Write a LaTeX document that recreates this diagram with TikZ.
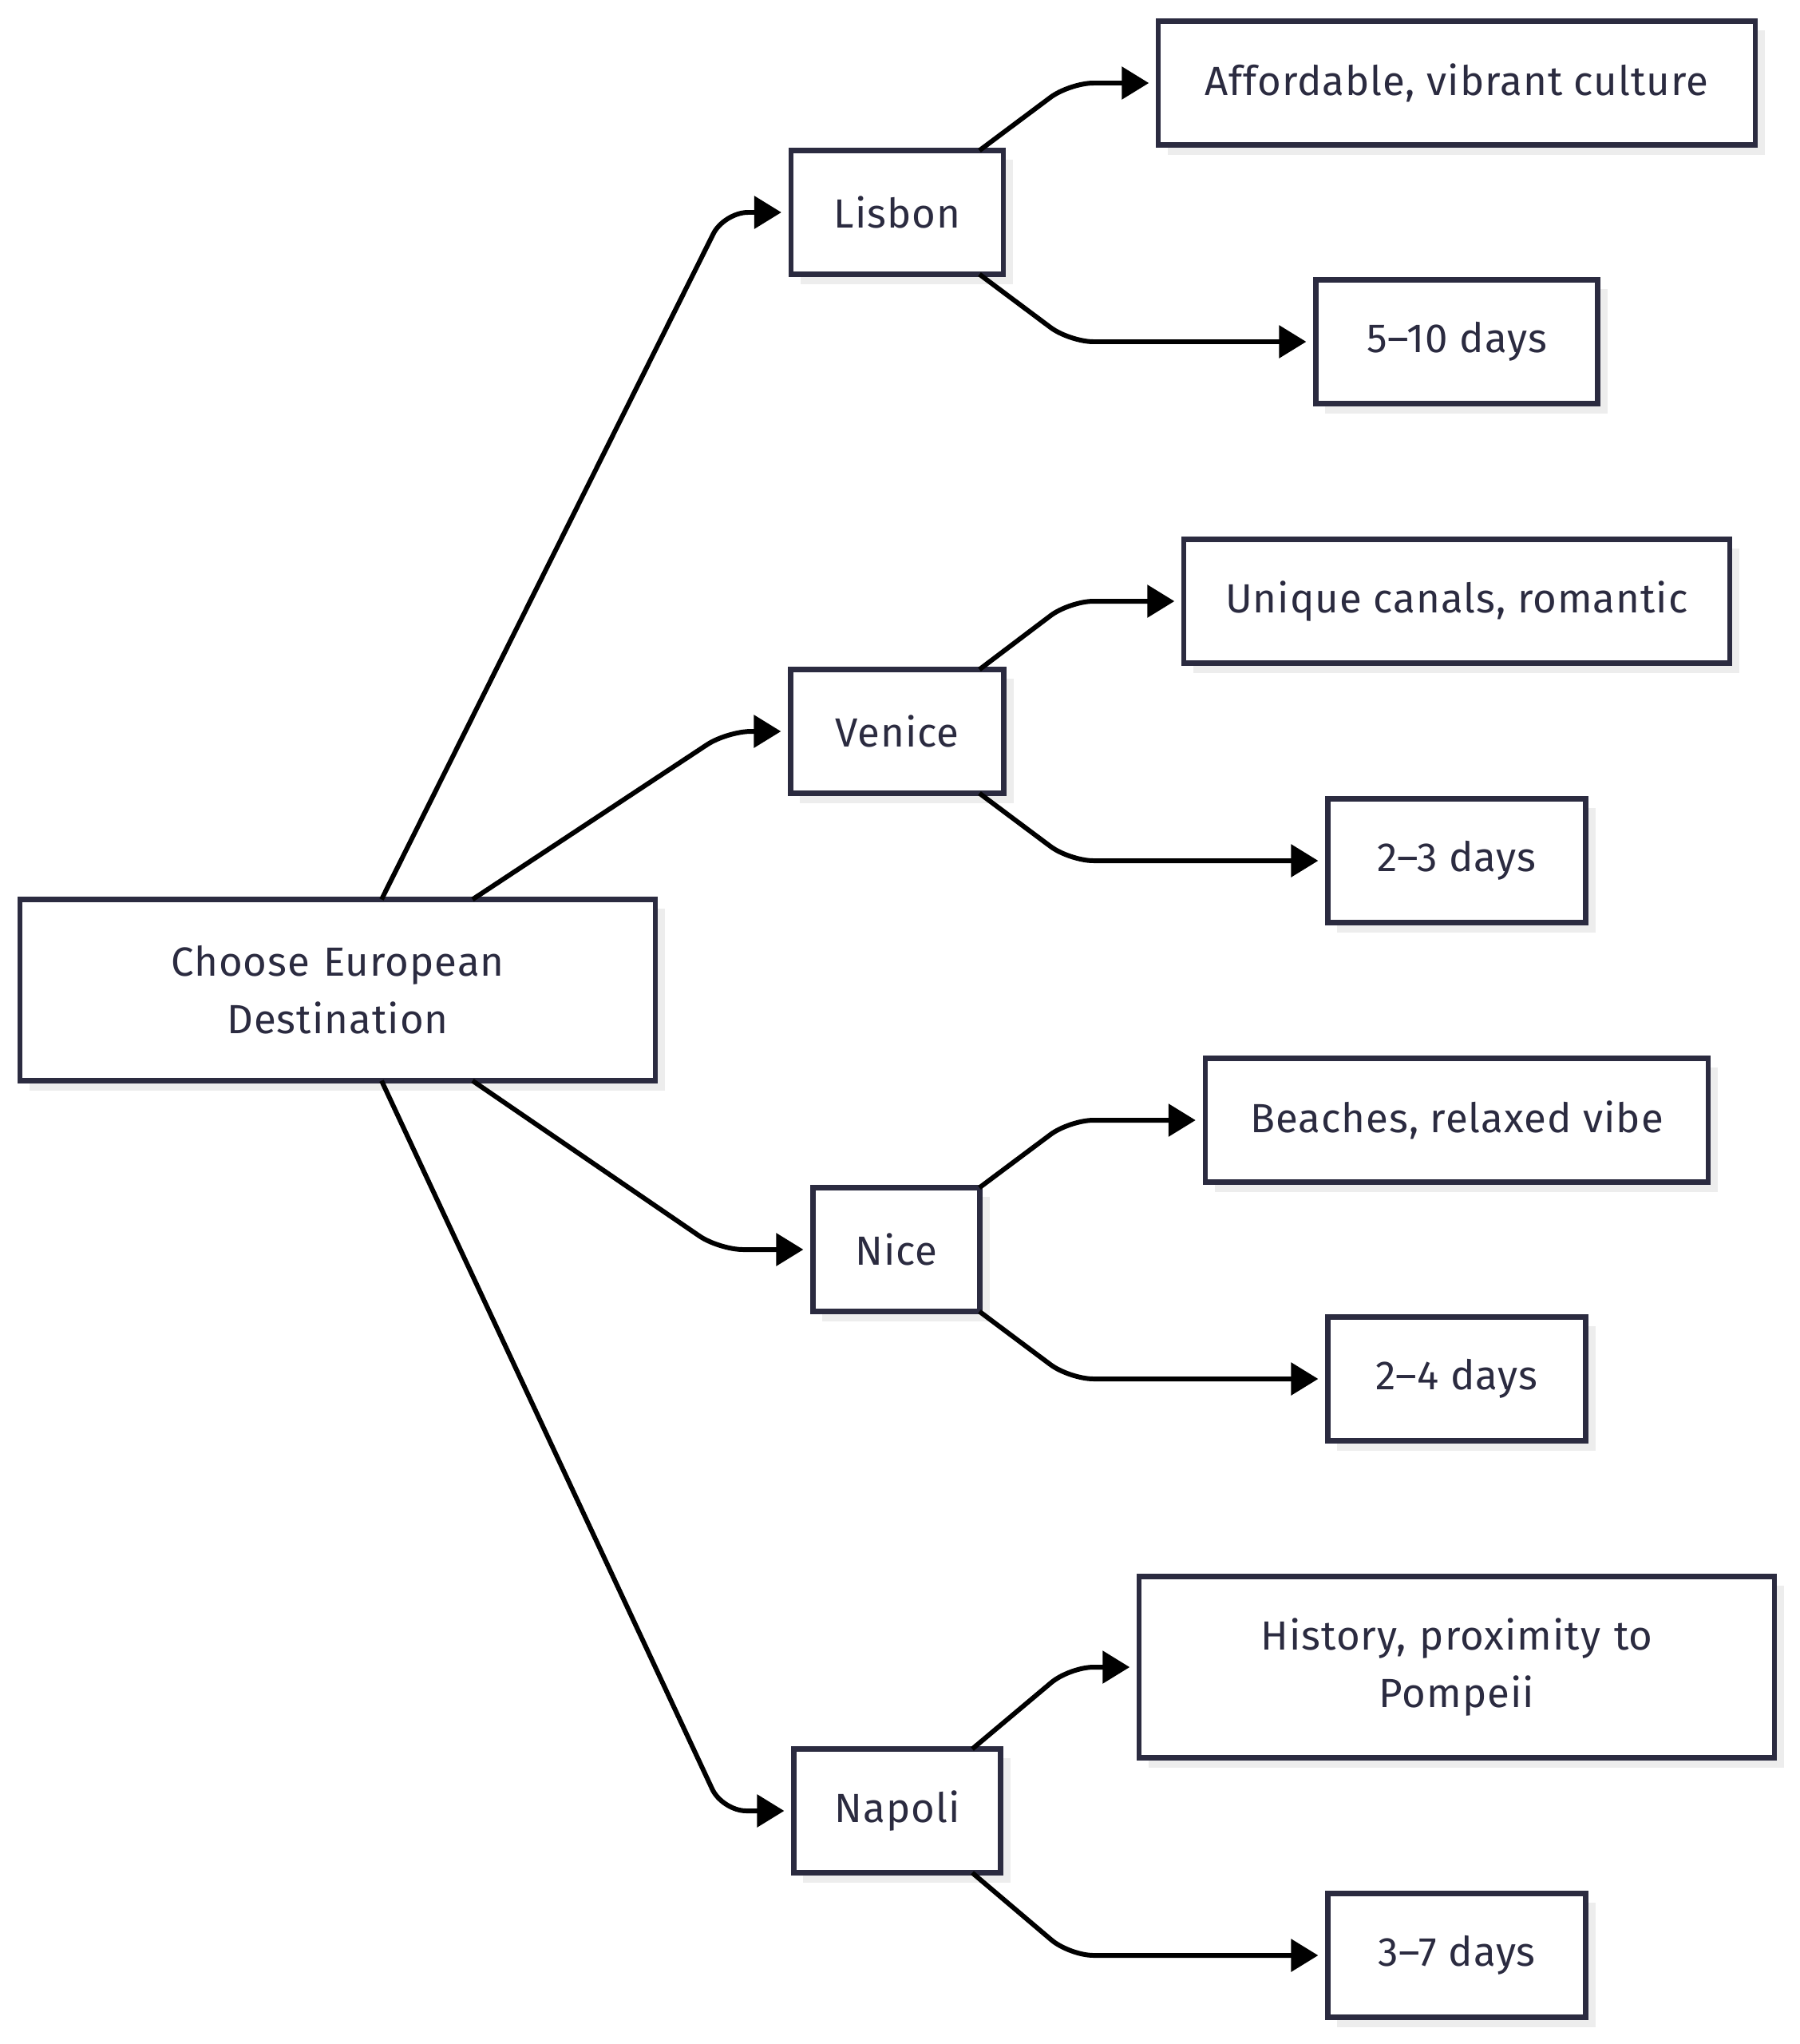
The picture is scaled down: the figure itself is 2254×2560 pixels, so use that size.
\documentclass[tikz,border=0pt]{standalone}
\usepackage{fontspec}
\setmainfont[LetterSpace=2]{Fira Sans}
\usetikzlibrary{arrows.meta,shadows,calc}
\definecolor{tripInk}{HTML}{2B2B40}
\definecolor{tripShade}{HTML}{EDEDED}
\tikzset{
  trip diagram/.style={
    x=0.01cm, y=-0.01cm, line width=1.7pt,
    every node/.style={font=\fontsize{14.5}{20.5}\selectfont, text=tripInk}
  },
  trip box/.style={draw=tripInk, fill=white, line width=1.8pt,
    minimum height=1.55cm, inner sep=0pt, outer sep=0pt, align=center,
    drop shadow={shadow xshift=0.12cm, shadow yshift=-0.12cm,
      fill=tripShade, opacity=1}},
  trip wide/.style={minimum width=7.95cm, minimum height=2.27cm, text width=6.81cm},
  trip link/.style={draw=black, rounded corners=0.3cm,
    -{Triangle[length=0.34cm,width=0.4cm]}, shorten >=0.12cm}
}

\begin{document}
\begin{tikzpicture}[trip diagram]
  \useasboundingbox (0,0) rectangle (2254,2560);
  % start and the four cities
  \node[trip box, trip wide] (root) at (423,1240) {Choose European\\Destination};
  \node[trip box, minimum width=2.66cm] (lisbon) at (1124,266) {Lisbon};
  \node[trip box, minimum width=2.67cm] (venice) at (1124,916) {Venice};
  \node[trip box, minimum width=2.09cm] (nice) at (1123,1565) {Nice};
  \node[trip box, minimum width=2.59cm] (napoli) at (1124,2268) {Napoli};
  % reasons and lengths of stay
  \node[trip box, minimum width=7.47cm] (afford) at (1825,104) {Affordable, vibrant culture};
  \node[trip box, minimum width=3.53cm] (lisdays) at (1825,428) {5–10 days};
  \node[trip box, minimum width=6.83cm] (canals) at (1825,753) {Unique canals, romantic};
  \node[trip box, minimum width=3.23cm] (vendays) at (1825,1078) {2–3 days};
  \node[trip box, minimum width=6.30cm] (beach) at (1825,1403) {Beaches, relaxed vibe};
  \node[trip box, minimum width=3.23cm] (nicdays) at (1825,1727) {2–4 days};
  \node[trip box, trip wide] (hist) at (1825,2088) {History, proximity to\\Pompeii};
  \node[trip box, minimum width=3.23cm] (napdays) at (1825,2449) {3–7 days};

  \draw[trip link] ($(root.north)+(55,0)$) -- (907,0 |- lisbon.west) -- (lisbon.west);
  \draw[trip link] ($(root.north)+(169,0)$) -- (911,0 |- venice.west) -- (venice.west);
  \draw[trip link] ($(root.south)+(169,0)$) -- (901,0 |- nice.west) -- (nice.west);
  \draw[trip link] ($(root.south)+(55,0)$) -- (905,0 |- napoli.west) -- (napoli.west);

  \foreach \src/\up/\down/\dx in {lisbon/afford/lisdays/103, venice/canals/vendays/103,
      nice/beach/nicdays/104, napoli/hist/napdays/94} {
    \draw[trip link] ($(\src.north)+(\dx,0)$) -- (1340,0 |- \up.west) -- (\up.west);
    \draw[trip link] ($(\src.south)+(\dx,0)$) -- (1340,0 |- \down.west) -- (\down.west);
  }
\end{tikzpicture}
\end{document}
